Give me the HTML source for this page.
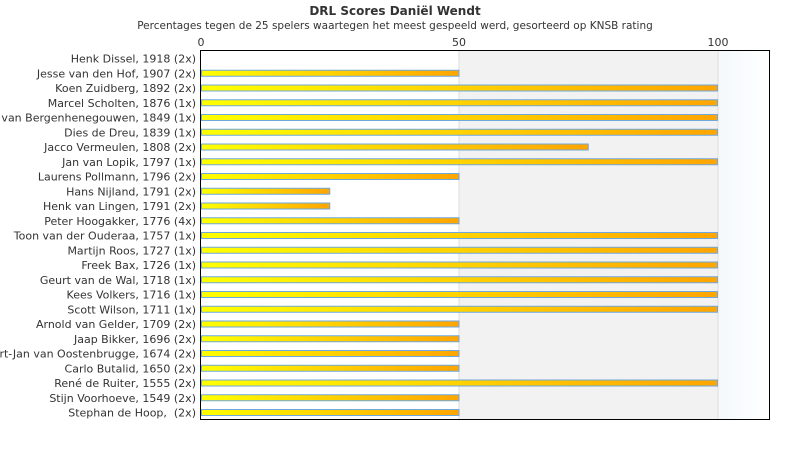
<!DOCTYPE html>
<html><head><meta charset="utf-8"><style>
body{margin:0;background:#fff;}
svg{display:block;font-family:"DejaVu Sans","Liberation Sans",sans-serif;}
</style></head><body>
<svg width="790" height="450" xmlns="http://www.w3.org/2000/svg">
<defs><linearGradient id="g" x1="0" x2="1" y1="0" y2="0"><stop offset="0" stop-color="#ffff00"/><stop offset="1" stop-color="#ffa500"/></linearGradient>
<linearGradient id="b" x1="0" x2="1"><stop offset="0" stop-color="#f4f8fc"/><stop offset="1" stop-color="#ffffff"/></linearGradient></defs>
<text x="395" y="15" text-anchor="middle" font-size="12" font-weight="bold" fill="#333">DRL Scores Daniël Wendt</text>
<text x="395" y="29" text-anchor="middle" font-size="10.5" fill="#333">Percentages tegen de 25 spelers waartegen het meest gespeeld werd, gesorteerd op KNSB rating</text>
<rect x="459" y="50" width="259" height="370" fill="#f2f2f2"/>
<rect x="718" y="50" width="52" height="370" fill="url(#b)"/>
<line x1="459" y1="50" x2="459" y2="420" stroke="#ddd"/>
<line x1="718" y1="50" x2="718" y2="420" stroke="#ddd"/>
<g font-size="11" fill="#333" text-anchor="middle">
<text x="201" y="46">0</text><text x="459" y="46">50</text><text x="718" y="46">100</text></g>
<g id="bars" font-size="11" fill="#333" text-anchor="end"></g>
<rect x="200.5" y="50.5" width="569" height="369" fill="none" stroke="#000"/>
</svg>
<script>
var d=[["Henk Dissel, 1918 (2x)",0],["Jesse van den Hof, 1907 (2x)",50],["Koen Zuidberg, 1892 (2x)",100],["Marcel Scholten, 1876 (1x)",100],["Rob van Bergenhenegouwen, 1849 (1x)",100],["Dies de Dreu, 1839 (1x)",100],["Jacco Vermeulen, 1808 (2x)",75],["Jan van Lopik, 1797 (1x)",100],["Laurens Pollmann, 1796 (2x)",50],["Hans Nijland, 1791 (2x)",25],["Henk van Lingen, 1791 (2x)",25],["Peter Hoogakker, 1776 (4x)",50],["Toon van der Ouderaa, 1757 (1x)",100],["Martijn Roos, 1727 (1x)",100],["Freek Bax, 1726 (1x)",100],["Geurt van de Wal, 1718 (1x)",100],["Kees Volkers, 1716 (1x)",100],["Scott Wilson, 1711 (1x)",100],["Arnold van Gelder, 1709 (2x)",50],["Jaap Bikker, 1696 (2x)",50],["Gert-Jan van Oostenbrugge, 1674 (2x)",50],["Carlo Butalid, 1650 (2x)",50],["René de Ruiter, 1555 (2x)",100],["Stijn Voorhoeve, 1549 (2x)",50],["Stephan de Hoop,  (2x)",50]];
var g=document.getElementById("bars"),s="";
d.forEach(function(r,i){var c=58.5+i*14.75;
s+='<text x="196" y="'+(c+4)+'" xml:space="preserve">'+r[0]+'</text>';
if(r[1]>0)s+='<rect x="201.5" y="'+(c-3)+'" width="'+(r[1]*5.17-1)+'" height="6" fill="url(#g)" stroke="#6fa8dc"/>';});
g.innerHTML=s;
</script>
</body></html>
